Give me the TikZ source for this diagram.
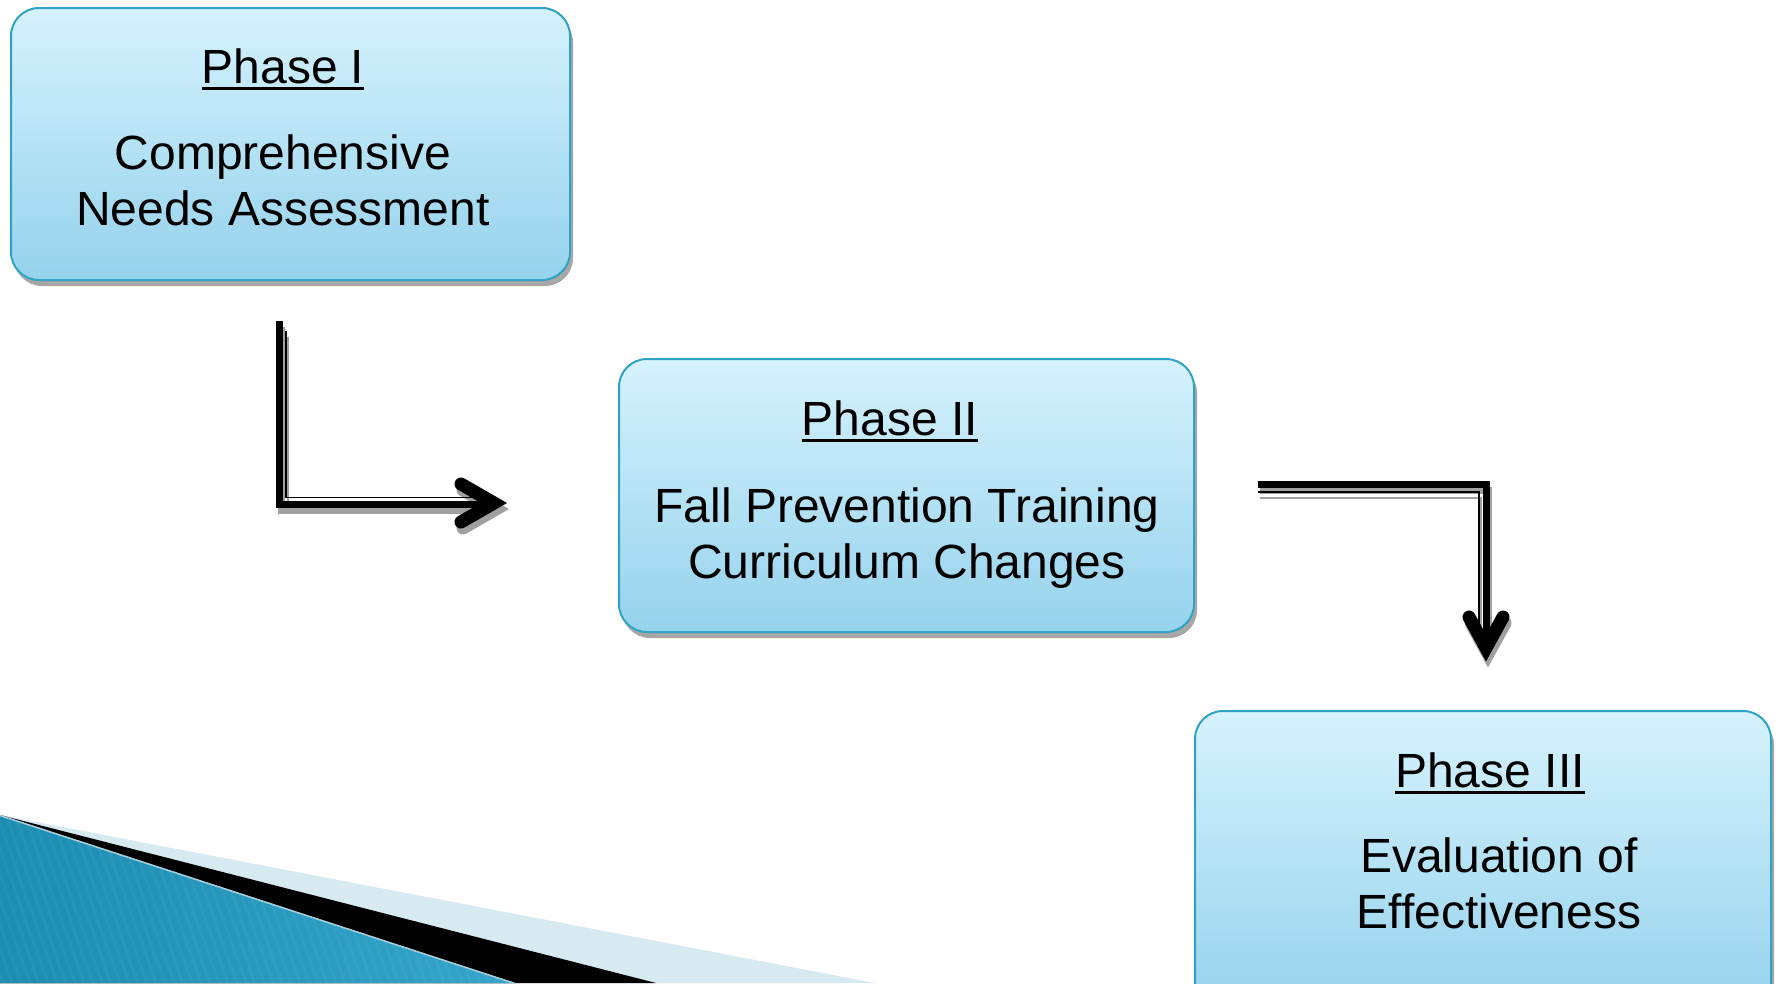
\documentclass[tikz,border=0pt]{standalone}
\usepackage{fontspec}
\setmainfont{Liberation Sans}
\usetikzlibrary{shadows}
\definecolor{boxtop}{HTML}{D6F2FD}
\definecolor{boxbot}{HTML}{95D2EC}
\definecolor{boxline}{HTML}{2EA3C5}
\definecolor{shadowgray}{HTML}{A6A6A6}
\definecolor{arrowshadow}{HTML}{A0A0A0}
\definecolor{bandlight}{HTML}{D7E9F1}
\definecolor{bluedark}{HTML}{1B8DB1}
\definecolor{bluemid}{HTML}{52BBDF}
\definecolor{blueright}{HTML}{34A4CB}
\definecolor{edgehl}{HTML}{A9CFDB}
\newcommand\phul[1]{\setbox0\hbox{#1}\rlap{\vrule height -3.5pt depth 6.5pt width \wd0}\box0}
\tikzset{
  phasebox/.style={draw=boxline, line width=2pt, rounded corners=28pt,
    top color=boxtop, bottom color=boxbot, inner sep=0pt,
    drop shadow={shadow xshift=3pt, shadow yshift=-6pt, fill=shadowgray, opacity=1}},
  txt/.style={font=\fontsize{48}{56}\selectfont, anchor=base, inner sep=0pt},
  thickline/.style={line width=7pt, line join=miter},
  thinline/.style={line width=1.8pt, line join=miter},
  chev/.style={line width=13pt, line cap=round, line join=miter},
  shd/.style={shift={(2,6)}},
}
\begin{document}
\begin{tikzpicture}[x=1pt,y=-1pt]
\useasboundingbox (0,0) rectangle (1778,983);
\clip (0,0) rectangle (1778,983);
% decoration bottom left
\fill[bandlight] (0,815) -- (875,983) -- (0,983) -- cycle;
\fill[black] (0,815) -- (656,983) -- (0,983) -- cycle;
\fill[left color=bluedark, middle color=bluemid, right color=blueright] (0,815) -- (515,983) -- (0,983) -- cycle;
\begin{scope}
  \clip (0,815) -- (515,983) -- (0,983) -- cycle;
  \foreach \i in {-300,-291,...,560} {
    \draw[white, opacity=.04, line width=3pt] (\i,815) -- (\i+60,983);
  }
\end{scope}
\draw[edgehl, line width=1.5pt] (0,815.5) -- (515,983.5);
% boxes
\node[phasebox, minimum width=559pt, minimum height=272pt] (p1) at (290.5,144) {};
\node[phasebox, minimum width=575pt, minimum height=273pt] (p2) at (906.5,495.5) {};
\node[phasebox, minimum width=576pt, minimum height=300pt] (p3) at (1483,861) {};
% texts
\node[txt] (p1t) at (283,83) {\phul{Phase I}};
\node[txt] (p1a) at (283,169) {Comprehensive};
\node[txt] (p1b) at (283,225) {Needs Assessment};
\node[txt] (p2t) at (890,435) {\phul{Phase II}};
\node[txt] (p2a) at (907,522) {Fall Prevention Training};
\node[txt] (p2b) at (907,578) {Curriculum Changes};
\node[txt] (p3t) at (1490,787) {\phul{Phase III}};
\node[txt] (p3a) at (1499,872) {Evaluation of};
\node[txt] (p3b) at (1499,928) {Effectiveness};
% arrow coordinates
\coordinate (a1top) at (279.5,321);
\coordinate (a1end) at (495,504);
\coordinate (a1ttop) at (285.8,331);
\coordinate (a1tend) at (494,497.5);
\coordinate (a1tip) at (494,503);
\coordinate (a1u) at (461,484);
\coordinate (a1d) at (461,522);
\coordinate (a2start) at (1258,484.5);
\coordinate (a2end) at (1486,650);
\coordinate (a2tstart) at (1258,492);
\coordinate (a2tend) at (1479,648);
\coordinate (a2tip) at (1486,648);
\coordinate (a2l) at (1469,617);
\coordinate (a2r) at (1503,617);
% shadows
\draw[thickline, arrowshadow] ([shd]a1top) |- ([shd]a1end);
\draw[thinline, arrowshadow] ([shd]a1ttop) |- ([shd]a1tend);
\draw[chev, arrowshadow] ([shd]a1u) -- ([shd]a1tip) -- ([shd]a1d);
\draw[thickline, arrowshadow] ([shd]a2start) -| ([shd]a2end);
\draw[thinline, arrowshadow] ([shd]a2tstart) -| ([shd]a2tend);
\draw[chev, arrowshadow] ([shd]a2l) -- ([shd]a2tip) -- ([shd]a2r);
% arrows
\draw[thickline] (a1top) |- (a1end);
\draw[thinline] (a1ttop) |- (a1tend);
\draw[chev] (a1u) -- (a1tip) -- (a1d);
\draw[thickline] (a2start) -| (a2end);
\draw[thinline] (a2tstart) -| (a2tend);
\draw[chev] (a2l) -- (a2tip) -- (a2r);
\end{tikzpicture}
\end{document}
